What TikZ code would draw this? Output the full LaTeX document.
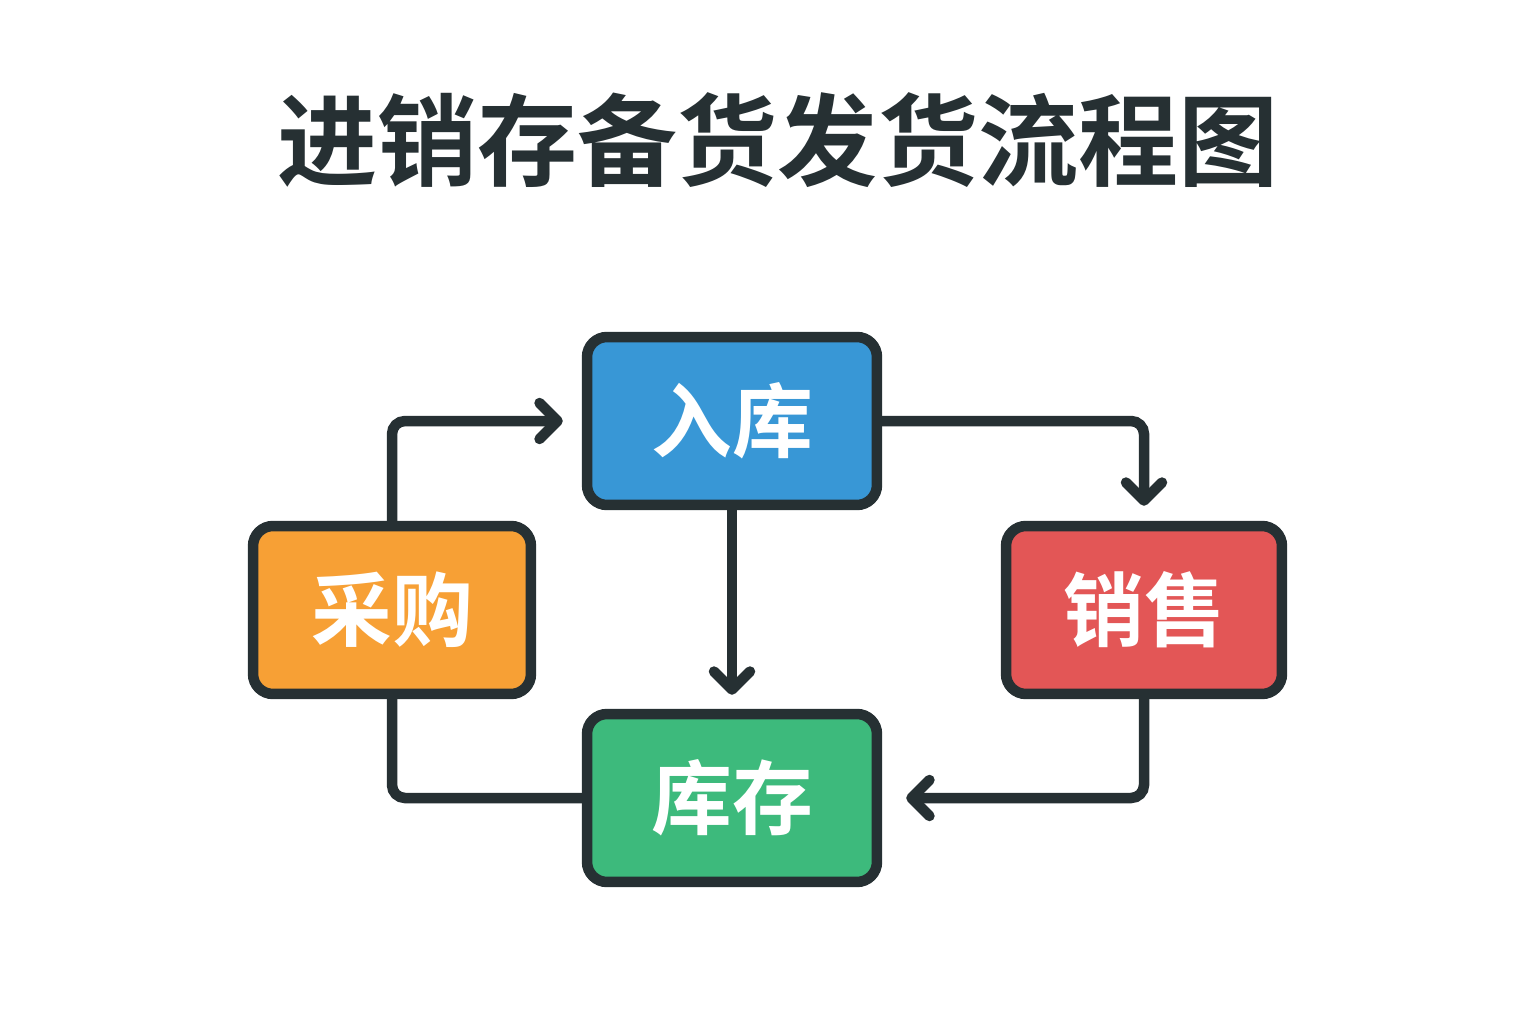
\documentclass[tikz,border=0pt]{standalone}
\usepackage{fontspec}
\newfontfamily\cjk{Noto Sans CJK SC}[BoldFont={Noto Sans CJK SC Bold}]
\usetikzlibrary{arrows.meta,positioning}
\definecolor{ink}{HTML}{263033}
\definecolor{bluebox}{HTML}{3897D6}
\definecolor{orangebox}{HTML}{F7A035}
\definecolor{redbox}{HTML}{E35656}
\definecolor{greenbox}{HTML}{3DBA7C}
\begin{document}
\begin{tikzpicture}[x=0.02cm,y=-0.02cm,
  stage/.style = {draw=ink, line width=0.21cm, rounded corners=0.4cm,
    minimum width=5.8cm, minimum height=3.36cm, text=white,
    font=\cjk\bfseries\fontsize{46pt}{50pt}\selectfont},
  link/.style = {draw=ink, line width=0.21cm, rounded corners=0.26cm},
  tip/.style = {link, -{Straight Barb[length=0.36cm, width=0.72cm, round]}}]
\useasboundingbox (0,0) rectangle (1536,1024);
\fill[white] (0,0) rectangle (1536,1024);
\node[text=ink, font=\cjk\bfseries\fontsize{57pt}{60pt}\selectfont] (title) at (778,140) {进销存备货发货流程图};
\node[stage, fill=bluebox] (ruku) at (732,421) {入库};
\node[stage, fill=greenbox] (kucun) at (732,798) {库存};
\node[stage, fill=orangebox, minimum width=5.56cm] (caigou) at (392,610) {采购};
\node[stage, fill=redbox, minimum width=5.52cm] (xiaoshou) at (1144,610) {销售};
% connectors
\draw[tip, shorten >=0.38cm] (caigou) |- (ruku);
\draw[tip, shorten >=0.3cm] (ruku) -| (xiaoshou);
\draw[tip, shorten >=0.28cm] (ruku) -- (kucun);
\draw[tip, shorten >=0.48cm] (xiaoshou) |- (kucun);
\draw[link] (caigou) |- (kucun);
\end{tikzpicture}
\end{document}
